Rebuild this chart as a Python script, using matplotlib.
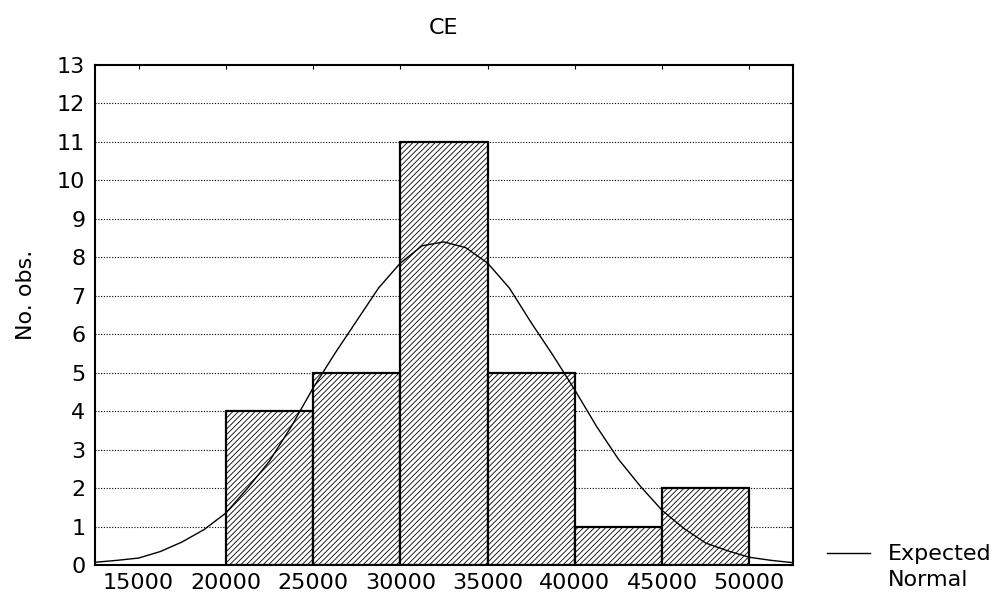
import matplotlib
matplotlib.use("Agg")
import matplotlib.pyplot as plt
import numpy as np
from matplotlib.lines import Line2D

# histogram of CE
bin_edges = [20000, 25000, 30000, 35000, 40000, 45000, 50000]
counts = [4, 5, 11, 5, 1, 2]

# expected normal curve
curve_x = [12500, 13750, 15000, 16250, 17500, 18750, 20000, 21250, 22500,
           23750, 25000, 26250, 27500, 28750, 30000, 31250, 32500, 33750,
           35000, 36250, 37500, 38750, 40000, 41250, 42500, 43750, 45000,
           46250, 47500, 48750, 50000, 51250, 52500]
curve_y = [0.07, 0.12, 0.18, 0.35, 0.6, 0.92, 1.35, 2.0, 2.7,
           3.6, 4.6, 5.5, 6.35, 7.2, 7.85, 8.3, 8.4, 8.25,
           7.85, 7.2, 6.3, 5.45, 4.55, 3.6, 2.75, 2.05, 1.42,
           0.95, 0.57, 0.37, 0.2, 0.12, 0.06]

x_ticks = [15000, 20000, 25000, 30000, 35000, 40000, 45000, 50000]
y_ticks = list(range(0, 14))

plt.rcParams['font.family'] = ['DejaVu Sans']
plt.rcParams['hatch.linewidth'] = 0.6

fig = plt.figure(figsize=(10.05, 5.99), dpi=100)
ax = fig.add_axes([0.0945, 0.0568, 0.6945, 0.8347])

# dotted grid behind the bars
for v in y_ticks[1:-1]:
    ax.axhline(v, color="black", lw=0.8, linestyle=(0, (1, 1.5)), zorder=0)

edges = np.array(bin_edges)
ax.bar(edges[:-1], counts, width=np.diff(edges), align="edge",
       facecolor="white", edgecolor="black", linewidth=1.6,
       hatch="//////", zorder=2)

ax.plot(curve_x, curve_y, color="black", lw=1.0, zorder=3)

ax.set_xlim(12500, 52500)
ax.set_ylim(0, 13)
ax.set_xticks(x_ticks)
ax.set_yticks(y_ticks)
ax.tick_params(axis="x", bottom=False, top=True, direction="in",
               length=3, labelsize=16, pad=6)
ax.tick_params(axis="y", left=False, right=True, direction="in",
               length=3, labelsize=16, pad=7)

for s in ax.spines.values():
    s.set_linewidth(1.5)
    s.set_color("black")

ax.set_title("CE", fontsize=16, pad=22)
fig.text(0.026, 0.5 + 0.0568 / 2 - 0.02, "No. obs.", rotation=90,
         fontsize=16, ha="center", va="center")

# legend
fig.add_artist(Line2D([827 / 1005, 870 / 1005], [1 - 553 / 599, 1 - 553 / 599],
                      color="black", lw=1.0))
fig.text(888 / 1005, 1 - 554 / 599, "Expected", fontsize=16, va="center")
fig.text(888 / 1005, 1 - 580 / 599, "Normal", fontsize=16, va="center")

fig.savefig("out.png", dpi=100)
